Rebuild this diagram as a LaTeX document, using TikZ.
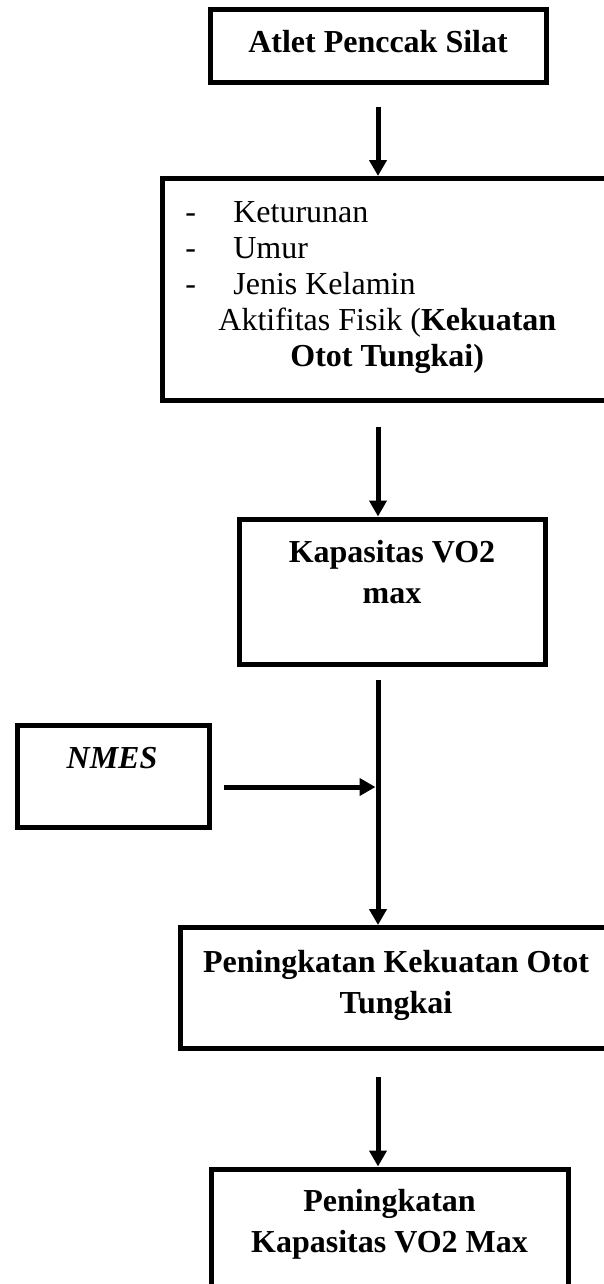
\documentclass[tikz,border=0pt]{standalone}
\usepackage{fontspec}
\setmainfont{Liberation Serif}
\usetikzlibrary{positioning, arrows.meta}

\tikzset{
  kotak/.style={draw, line width=2.5pt, inner sep=0pt, anchor=north west},
  judul/.style={font=\fontsize{16}{20.5}\selectfont\bfseries, align=center,
                anchor=base, inner sep=0pt},
  daftar/.style={font=\fontsize{16}{18}\selectfont, align=left,
                 anchor=base west, inner sep=0pt},
  panah/.style={line width=2.5pt, -{Triangle[width=8.5pt, length=8pt]}}
}

\begin{document}
\begin{tikzpicture}[x=0.5pt, y=-0.5pt]
  \useasboundingbox (0,0) rectangle (604,1284);

  \node[kotak, minimum width=168pt, minimum height=36.5pt] (atlet) at (207.5,7.5) {};
  \node[judul] (atlet-t) at (378,53) {Atlet Penccak Silat};

  \node[kotak, minimum width=224.75pt, minimum height=110.75pt] (faktor) at (160,176) {};
  \node[daftar] (faktor-t) at (185,366)
    {\makebox[24pt][l]{-}Keturunan\\
     \makebox[24pt][l]{-}Umur\\
     \makebox[24pt][l]{-}Jenis Kelamin\\
     \hspace*{16.5pt}Aktifitas Fisik (\textbf{Kekuatan}\\
     \hspace*{52.5pt}\textbf{Otot Tungkai)}};

  \node[kotak, minimum width=153pt, minimum height=72.5pt] (vo) at (236.5,516.5) {};
  \node[judul] (vo-t) at (392,603) {Kapasitas VO2\\max};

  \node[kotak, minimum width=96pt, minimum height=51pt] (nmes) at (15,723) {};
  \node[judul] (nmes-t) at (112,768) {\textit{NMES}};

  \node[kotak, minimum width=216pt, minimum height=60.25pt] (otot) at (177.5,925) {};
  \node[judul] (otot-t) at (396,1013) {Peningkatan Kekuatan Otot\\Tungkai};

  \node[kotak, minimum width=178.5pt, minimum height=65pt] (vomax) at (208.5,1166.5) {};
  \node[judul] (vomax-t) at (389.5,1252) {Peningkatan\\Kapasitas VO2 Max};

  \coordinate (p1) at (378,107);
  \coordinate (p2) at (378,427);
  \coordinate (p3) at (378,680);
  \coordinate (p4) at (378,1077);
  \coordinate (q) at (224,787);
  \coordinate (j) at (378,787);

  \draw[panah] (p1) -- (p1 |- faktor.north);
  \draw[panah] (p2) -- (p2 |- vo.north);
  \draw[panah] (p3) -- (p3 |- otot.north);
  \draw[panah, shorten >=1.25pt] (q) -- (j);
  \draw[panah] (p4) -- (p4 |- vomax.north);
\end{tikzpicture}
\end{document}
